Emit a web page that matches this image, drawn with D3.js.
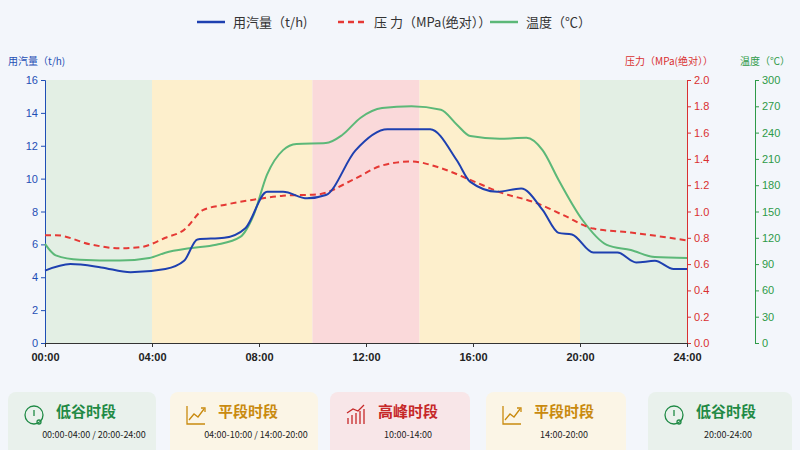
<!DOCTYPE html><html><head><meta charset="utf-8"><script src="https://cdn.jsdelivr.net/npm/d3@7"></script>
<style>body{margin:0;background:#f3f6fb;font-family:"Noto Sans CJK SC","Noto Sans",sans-serif}</style></head><body><svg id="c" width="800" height="450"></svg><script>
const flowH=[0,0.95,2.1,3.2,4.5,5.2,5.7,6.7,7.5,8.3,8.9,9.8,10.5,11.6,12.8,14.4,15.4,15.9,16.9,17.8,18.6,19.2,19.7,20.5,21.4,22.1,22.8,23.5,24];
const flowV=[4.4,4.8,4.6,4.3,4.5,5.0,6.3,6.4,7.0,9.2,9.2,8.8,9.0,11.7,13.0,13.0,11.1,9.8,9.2,9.4,8.1,6.7,6.6,5.5,5.5,4.9,5.0,4.5,4.5];
const presH=[0,0.4,1.7,2.8,3.6,4.5,5.2,5.9,6.7,7.8,8.9,10.2,11.5,12.6,13.7,14.8,15.9,17.1,18.3,19.4,20.5,21.9,24];
const presV=[0.82,0.82,0.75,0.72,0.73,0.80,0.86,1.01,1.05,1.09,1.12,1.13,1.24,1.35,1.38,1.33,1.24,1.14,1.07,0.97,0.87,0.84,0.78];
const tempH=[0,0.4,1.3,2.8,3.9,4.5,5.4,6.4,7.3,7.8,8.3,8.9,9.4,10.5,11.1,11.8,12.6,13.7,14.8,15.4,15.9,17.0,18.0,18.6,19.2,20.1,21.0,21.9,22.8,24];
const tempV=[113,100,95,94,97,103,108,112,121,146,192,220,227,228,237,257,268,270,266,249,236,233,234,220,186,140,112,106,98,97];
const xTicks=["00:00","04:00","08:00","12:00","16:00","20:00","24:00"];
const bands=[[0,4,"#e3efe4"],[4,10,"#fdefcc"],[10,14,"#fad9da"],[14,20,"#fdefcc"],[20,24,"#e3efe4"]];
const cards=[["低谷时段","00:00-04:00 / 20:00-24:00","#1f8a45","#e9f1ec","clock"],["平段时段","04:00-10:00 / 14:00-20:00","#c98a0f","#fbf5e6","trend"],["高峰时段","10:00-14:00","#c62828","#f8e6e8","bars"],["平段时段","14:00-20:00","#c98a0f","#fbf5e6","trend"],["低谷时段","20:00-24:00","#1f8a45","#e9f1ec","clock"]];
const svg=d3.select("#c");
const L=45,R=687,T=80,B=343;
const x=d3.scaleLinear().domain([0,24]).range([L,R]);
const y1=d3.scaleLinear().domain([0,16]).range([B,T]);
const y2=d3.scaleLinear().domain([0,2]).range([B,T]);
const y3=d3.scaleLinear().domain([0,300]).range([B,T]);
svg.selectAll(".band").data(bands).join("rect").attr("x",d=>x(d[0])).attr("width",d=>x(d[1])-x(d[0])).attr("y",T).attr("height",B-T).attr("fill",d=>d[2]);
const ax=(g,c)=>{g.selectAll("path,line").attr("stroke",c);g.selectAll("text").attr("fill",c).attr("font-size",11);};
svg.append("g").attr("transform",`translate(${L},0)`).call(d3.axisLeft(y1).ticks(8).tickSize(4)).call(g=>ax(g,"#1f4fb5"));
svg.append("g").attr("transform",`translate(${R},0)`).call(d3.axisRight(y2).tickValues(d3.range(0,2.01,0.2)).tickFormat(d3.format(".1f")).tickSize(4)).call(g=>ax(g,"#d93030"));
svg.append("g").attr("transform",`translate(755,0)`).call(d3.axisRight(y3).tickValues(d3.range(0,301,30)).tickSize(4)).call(g=>ax(g,"#2e9a48"));
svg.append("g").attr("transform",`translate(0,${B})`).call(d3.axisBottom(x).tickValues([0,4,8,12,16,20,24]).tickFormat((d,i)=>xTicks[i]).tickSize(4)).call(g=>{ax(g,"#333");g.selectAll("text").attr("font-weight","bold").attr("fill","#222").attr("dy","1em");});
const ln=(hs,vs,ys)=>d3.line().x((d,i)=>x(hs[i])).y(d=>ys(d)).curve(d3.curveMonotoneX)(vs);
svg.append("path").attr("d",ln(tempH,tempV,y3)).attr("fill","none").attr("stroke","#5cb878").attr("stroke-width",2);
svg.append("path").attr("d",ln(presH,presV,y2)).attr("fill","none").attr("stroke","#e53935").attr("stroke-width",2).attr("stroke-dasharray","6,4");
svg.append("path").attr("d",ln(flowH,flowV,y1)).attr("fill","none").attr("stroke","#1e40b0").attr("stroke-width",2);
svg.append("text").attr("x",8).attr("y",65).text("用汽量（t/h)").attr("fill","#1f4fb5").attr("font-size",10);
svg.append("text").attr("x",713).attr("y",65).attr("text-anchor","end").text("压力（MPa(绝对））").attr("fill","#d93030").attr("font-size",10);
svg.append("text").attr("x",790).attr("y",65).attr("text-anchor","end").text("温度（℃）").attr("fill","#2e9a48").attr("font-size",10);
const leg=[[197,"#1e40b0",null,"用汽量（t/h)"],[338,"#e53935","6,4","压 力（MPa(绝对））"],[490,"#5cb878",null,"温度（℃）"]];
leg.forEach(l=>{svg.append("line").attr("x1",l[0]).attr("x2",l[0]+28).attr("y1",22).attr("y2",22).attr("stroke",l[1]).attr("stroke-width",2.5).attr("stroke-dasharray",l[2]);
svg.append("text").attr("x",l[0]+36).attr("y",27).text(l[3]).attr("font-size",13).attr("fill","#333");});
const cx=[8,170,330,486,648],cw=[148,148,140,140,144];
cards.forEach((c,i)=>{const g=svg.append("g").attr("transform",`translate(${cx[i]},392)`);
g.append("rect").attr("width",cw[i]).attr("height",70).attr("rx",8).attr("fill",c[3]);
const ix=g.append("g").attr("transform","translate(26,23)").attr("fill","none").attr("stroke",c[2]).attr("stroke-width",1.3);
if(c[4]=="clock"){ix.append("circle").attr("r",9);ix.append("path").attr("d","M0,-5V1");ix.append("circle").attr("cx",5).attr("cy",7).attr("r",2);}
else if(c[4]=="trend"){ix.append("path").attr("d","M-9,-9V9H9M-7,5L-2,-1L2,2L8,-6");ix.append("path").attr("d","M5,-7L9,-7L9,-3");}
else{ix.append("path").attr("d","M-8,9V3M-4,9V0M0,9V-2M4,9V-4M8,9V-6M-9,-2L-3,-6L2,-4L8,-10");}
g.append("text").attr("x",48).attr("y",25).text(c[0]).attr("font-size",15).attr("font-weight","bold").attr("fill",c[2]);
g.append("text").attr("x",cw[i]/2+(i==0||i==1?12:8)).attr("y",46).attr("text-anchor","middle").text(c[1]).attr("font-size",9).attr("fill","#222");});
</script></body></html>
